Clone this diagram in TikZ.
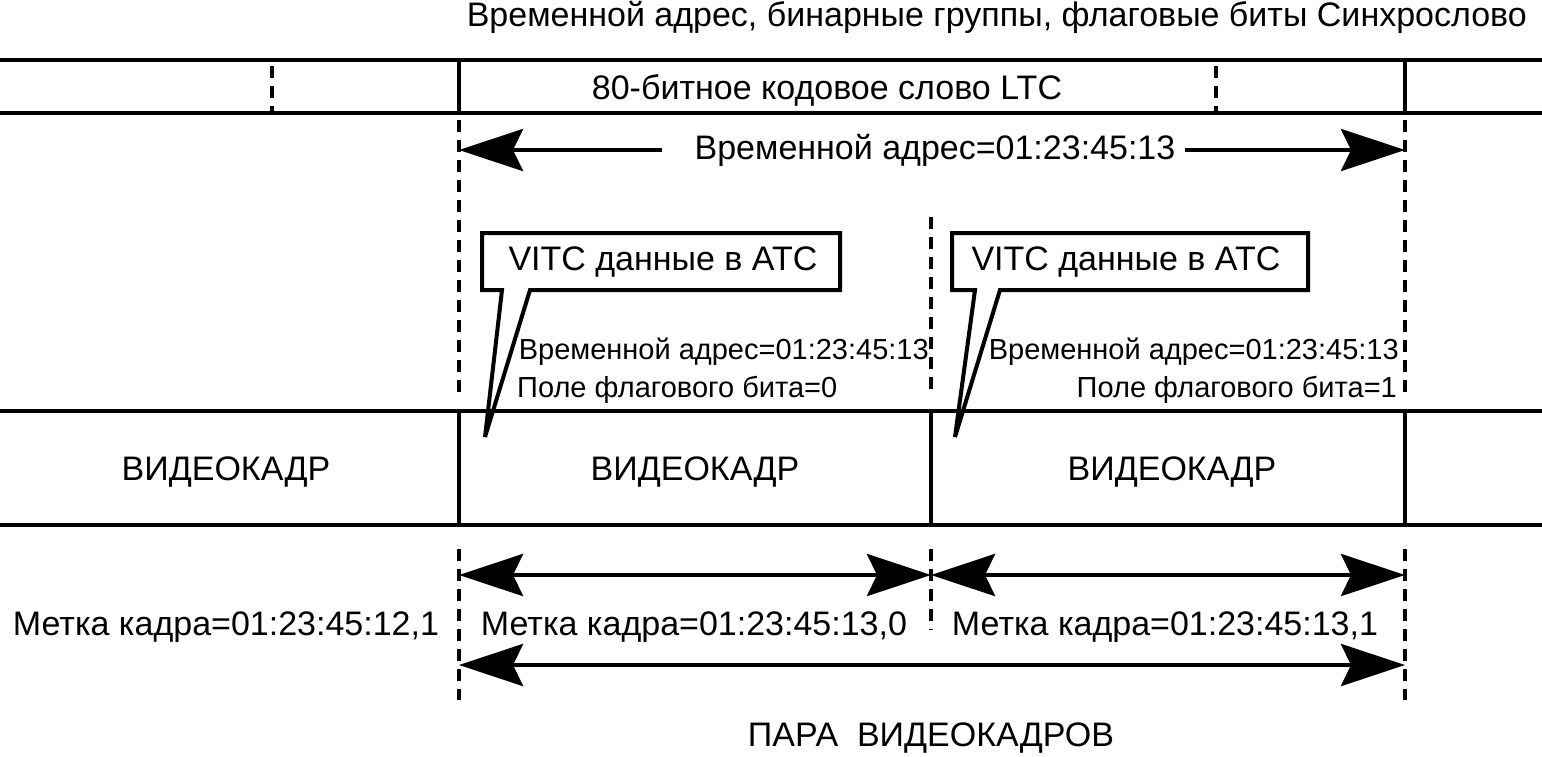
\documentclass[tikz,border=0pt]{standalone}
\usepackage{fontspec}
\setmainfont{Liberation Sans}
\usetikzlibrary{arrows.meta}
\begin{document}
\begin{tikzpicture}[x=1pt,y=-1pt,
  solidline/.style={line width=4.5pt},
  dashline/.style={line width=4pt,dash pattern=on 12pt off 8pt},
  arr/.style={line width=4.5pt,-{Stealth[length=64pt,width=42pt,inset=10pt]}},
  dbl/.style={line width=4.5pt,{Stealth[length=64pt,width=42pt,inset=10pt]}-{Stealth[length=64pt,width=42pt,inset=10pt]}},
  lbl/.style={font=\fontsize{34}{40}\selectfont,inner sep=0pt},
  small/.style={font=\fontsize{29}{34}\selectfont,inner sep=0pt},
  callout/.style={line width=4pt,line join=miter}]
\useasboundingbox (0,0) rectangle (1542,756);
% top title
\node[lbl,anchor=east] (title) at (1527,17) {Временной адрес, бинарные группы, флаговые биты Синхрослово};
% LTC band
\coordinate (l1a) at (0,60); \coordinate (l1b) at (1542,60);
\coordinate (l2a) at (0,113); \coordinate (l2b) at (1542,113);
\draw[solidline] (l1a) -- (l1b);
\draw[solidline] (l2a) -- (l2b);
\draw[solidline] (459,60) -- (459,113);
\draw[solidline] (1405,60) -- (1405,113);
\draw[dashline] (272,66) -- (272,113);
\draw[dashline] (1216,66) -- (1216,113);
\node[lbl] (ltc) at (827,90) {80-битное кодовое слово LTC};
% dashed guides upper
\draw[dashline] (459,120) -- (459,392);
\draw[dashline] (1405,120) -- (1405,395);
\draw[dashline] (931,217) -- (931,395);
% top arrow
\node[lbl] (ta) at (935,150) {Временной адрес=01:23:45:13};
\coordinate (taL) at (459,150); \coordinate (taR) at (1405,150);
\coordinate (taLs) at (662,150); \coordinate (taRs) at (1185,150);
\draw[arr] (taLs) -- (taL);
\draw[arr] (taRs) -- (taR);
% callouts
\draw[callout] (502,290) -- (482,290) -- (482,233) -- (840,233) -- (840,290) -- (530,290) -- (485,437) -- cycle;
\node[lbl] (c1) at (663,262) {VITC данные в ATC};
\draw[callout] (975,290) -- (952,290) -- (952,233) -- (1308,233) -- (1308,290) -- (1000,290) -- (955,437) -- cycle;
\node[lbl] (c2) at (1126,262) {VITC данные в ATC};
% time address texts
\node[small,anchor=east] (ta1) at (929,352) {Временной адрес=01:23:45:13};
\node[small,anchor=west] (fb1) at (517,390) {Поле флагового бита=0};
\node[small,anchor=east] (ta2) at (1399,352) {Временной адрес=01:23:45:13};
\node[small,anchor=east] (fb2) at (1397,390) {Поле флагового бита=1};
% video band
\draw[solidline] (0,411) -- (1542,411);
\draw[solidline] (0,525) -- (1542,525);
\draw[solidline] (459,411) -- (459,525);
\draw[solidline] (931,411) -- (931,525);
\draw[solidline] (1405,411) -- (1405,525);
\node[lbl] (v1) at (226,472) {ВИДЕОКАДР};
\node[lbl] (v2) at (695,472) {ВИДЕОКАДР};
\node[lbl] (v3) at (1172,472) {ВИДЕОКАДР};
% lower dashed guides
\draw[dashline] (459,549) -- (459,700);
\draw[dashline] (931,549) -- (931,630);
\draw[dashline] (1405,549) -- (1405,700);
% lower arrows
\coordinate (a1) at (459,575); \coordinate (a2) at (931,575); \coordinate (a3) at (1405,575);
\draw[dbl] (a1) -- (a2);
\draw[dbl] (a2) -- (a3);
\coordinate (b1) at (459,665); \coordinate (b3) at (1405,665);
\draw[dbl] (b1) -- (b3);
\node[lbl] (m1) at (226,627) {Метка кадра=01:23:45:12,1};
\node[lbl] (m2) at (694,627) {Метка кадра=01:23:45:13,0};
\node[lbl] (m3) at (1165,627) {Метка кадра=01:23:45:13,1};
\node[lbl] (pair) at (931,738) {ПАРА\ \ ВИДЕОКАДРОВ};
\end{tikzpicture}
\end{document}
